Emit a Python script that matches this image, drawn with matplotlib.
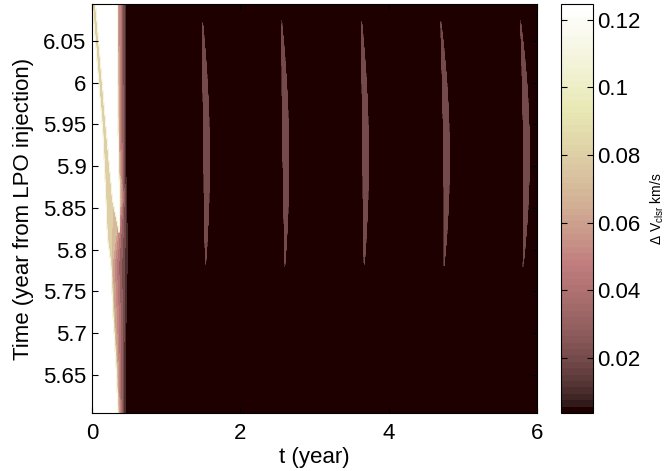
import numpy as np
import matplotlib
matplotlib.use("Agg")
import matplotlib.pyplot as plt
from matplotlib.colors import ListedColormap, Normalize
from matplotlib.cm import ScalarMappable

plt.rcParams["font.family"] = ["Liberation Sans", "DejaVu Sans"]
plt.rcParams["mathtext.fontset"] = "custom"
plt.rcParams["mathtext.rm"] = "Liberation Sans"

# axis ranges
t_range = (0.0, 6.0)
T_range = (5.6045, 6.094)
cbar_min, cbar_max = 0.0037, 0.1247
x_ticks = [0, 2, 4, 6]
y_ticks = [5.65, 5.7, 5.75, 5.8, 5.85, 5.9, 5.95, 6.0, 6.05]
cbar_ticks = [0.02, 0.04, 0.06, 0.08, 0.1, 0.12]
contour_levels = [0.01, 0.02, 0.03, 0.04, 0.05, 0.06, 0.07, 0.08, 0.09, 0.10, 0.11, 0.12]
background_value = 0.006

# streaks (thin ridges) : t position at top / middle / bottom of each ridge
streak_top_t = [1.490, 2.557, 3.635, 4.703, 5.778]
streak_mid_t = [1.545, 2.614, 3.689, 4.780, 5.858]
streak_bot_t = [1.530, 2.601, 3.670, 4.748, 5.813]
streak_T = [6.072, 5.910, 5.782]
streak_value = 0.027
streak_halfwidth = 0.039

# left strip: boundaries (t) at rows (T), top to bottom
strip_T = [6.0943, 5.9398, 5.8596, 5.8260, 5.8093, 5.7817, 5.7219, 5.6620, 5.6045]
strip_a = [0.007, 0.148, 0.189, 0.202, 0.216, 0.256, 0.283, 0.324, 0.351]   # white -> tan
strip_b = [0.344, 0.351, 0.391, 0.337, 0.310, 0.270, 0.297, 0.337, 0.357]   # tan -> pink
strip_c = [0.391, 0.398, 0.418, 0.391, 0.378, 0.351, 0.378, 0.378, 0.391]   # pink -> mauve
strip_d = [0.452, 0.452, 0.458, 0.472, 0.472, 0.472, 0.458, 0.445, 0.445]   # mauve -> dark
strip_knot_vals = [0.2, 0.089, 0.071, 0.042, 0.012, 0.004]

# white pocket between the tan line and the strip (closes at the V apex)
pocket_T = [6.0943, 5.9398, 5.8596, 5.8260, 5.8093]
pocket_e = [0.054, 0.202, 0.283, 0.364, 0.390]
pocket_f = [0.337, 0.344, 0.364, 0.364, 0.340]
pocket_value = 0.2


def matlab_pink(n=64):
    m1 = int(np.fix(3 / 8 * n))
    r = np.concatenate([np.arange(1, m1 + 1) / m1, np.ones(n - m1)])
    g = np.concatenate([np.zeros(m1), np.arange(1, m1 + 1) / m1, np.ones(n - 2 * m1)])
    b = np.concatenate([np.zeros(2 * m1), np.arange(1, n - 2 * m1 + 1) / (n - 2 * m1)])
    gray = np.linspace(0, 1, n)
    hot = np.column_stack([r, g, b])
    return np.sqrt((2 * gray[:, None] + hot) / 3)


def build_field(t, T):
    tt, TT = np.meshgrid(t, T)
    Z = np.full(tt.shape, background_value)

    # streaks
    for k in range(len(streak_top_t)):
        coef = np.polyfit(streak_T, [streak_top_t[k], streak_mid_t[k], streak_bot_t[k]], 2)
        c = np.polyval(coef, TT)
        Tc = 0.5 * (streak_T[0] + streak_T[2])
        H = 0.5 * (streak_T[0] - streak_T[2])
        hw = streak_halfwidth * (1 - ((TT - Tc) / H) ** 2)
        s = np.minimum(streak_value, streak_value - 10 * (np.abs(tt - c) - hw))
        Z = np.maximum(Z, s)

    # left strip, row by row
    sT = np.array(strip_T)[::-1]
    rows = []
    for Ti in T:
        a = np.interp(Ti, sT, np.array(strip_a)[::-1])
        b = np.interp(Ti, sT, np.array(strip_b)[::-1])
        c = np.interp(Ti, sT, np.array(strip_c)[::-1])
        d = np.interp(Ti, sT, np.array(strip_d)[::-1])
        knots = [a - 0.01, a, max(b, a + 0.002), c, d, d + 0.01]
        rows.append(np.interp(t, knots, strip_knot_vals))
    Z = np.maximum(Z, np.array(rows))

    pT = np.array(pocket_T)[::-1]
    e = np.interp(TT, pT, np.array(pocket_e)[::-1])
    f = np.interp(TT, pT, np.array(pocket_f)[::-1])
    pocket = pocket_value - 15 * np.maximum(e - tt, tt - f)
    Z = np.maximum(Z, pocket)
    return Z


t = np.linspace(t_range[0], t_range[1], 1501)
T = np.linspace(T_range[0], T_range[1], 450)
Z = build_field(t, T)

cmap = ListedColormap(matlab_pink(64))
norm = Normalize(cbar_min, cbar_max)
fill_levels = [0.0] + contour_levels
band_vals = [cbar_min] + contour_levels[:-1]
band_colors = [cmap(norm(v)) for v in band_vals]

fig = plt.figure(figsize=(6.68, 4.71), dpi=100)
ax = fig.add_axes([92 / 668, 1 - 413 / 471, 445 / 668, 409 / 471])
cax = fig.add_axes([561 / 668, 1 - 413 / 471, 32 / 668, 409 / 471])

ax.contourf(t, T, Z, levels=fill_levels, colors=band_colors)
ax.set_xlim(*t_range)
ax.set_ylim(*T_range)
ax.set_xticks(x_ticks)
ax.set_xticklabels([f"{v:g}" for v in x_ticks])
ax.set_yticks(y_ticks)
ax.set_yticklabels([f"{v:g}" for v in y_ticks])
ax.tick_params(direction="in", length=4, width=0.8, labelsize=16,
               top=True, right=True, pad=4)
ax.tick_params(axis="x", pad=7)
ax.set_xlabel("t (year)", fontsize=16)
ax.set_ylabel("Time (year from LPO injection)", fontsize=16)
ax.xaxis.set_label_coords(0.5, -(457.5 - 413) / 409)
ax.xaxis.label.set_va("center")
ax.yaxis.set_label_coords((24 - 92) / 445, 0.5)
ax.yaxis.label.set_va("center")

sm = ScalarMappable(norm=norm, cmap=cmap)
cb = fig.colorbar(sm, cax=cax, ticks=cbar_ticks)
cb.ax.set_yticklabels([f"{v:g}" for v in cbar_ticks])
cax.tick_params(direction="in", length=4, width=0.8, labelsize=16,
                left=True, right=True, pad=3)
cb.outline.set_linewidth(0.8)
cb.set_label(r"Δ V$_\mathregular{clsr}$ km/s", fontsize=10)
cax.yaxis.set_label_coords(3.0, 0.5)
cax.yaxis.label.set_va("center")

fig.savefig("out.png", dpi=100)
